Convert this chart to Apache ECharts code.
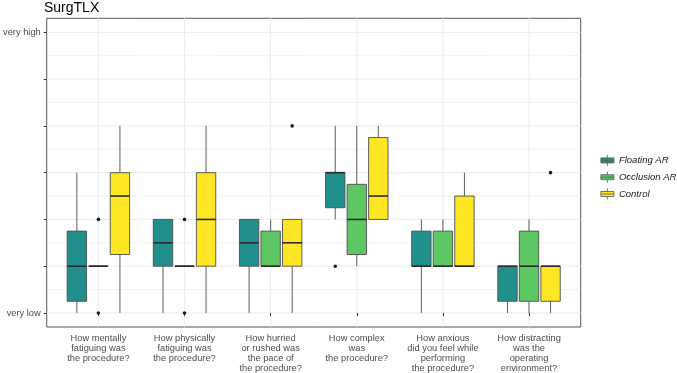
<!DOCTYPE html>
<html>
<head>
<meta charset="utf-8">
<script src="https://cdn.jsdelivr.net/npm/echarts@6/dist/echarts.min.js"></script>
<style>
  html, body { margin: 0; padding: 0; background: #fff; }
  #chart { width: 677px; height: 373px; }
</style>
</head>
<body>
<div id="chart"></div>
<script>
// ---------- data ----------
const categories = [
  'How mentally\nfatiguing was\nthe procedure?',
  'How physically\nfatiguing was\nthe procedure?',
  'How hurried\nor rushed was\nthe pace of\nthe procedure?',
  'How complex\nwas\nthe procedure?',
  'How anxious\ndid you feel while\nperforming\nthe procedure?',
  'How distracting\nwas the\noperating\nenvironment?'
];
const groups = ['Floating AR', 'Occlusion AR', 'Control'];

// [lower whisker, Q1, median, Q3, upper whisker] per category
const floatingAR = [
  [0, 0.25, 1, 1.75, 3],
  [0, 1, 1.5, 2, 2],
  [0, 1, 1.5, 2, 2],
  [2, 2.25, 3, 3, 4],
  [0, 1, 1, 1.75, 2],
  [0, 0.25, 1, 1, 1]
];
const occlusionAR = [
  [1, 1, 1, 1, 1],
  [1, 1, 1, 1, 1],
  [1, 1, 1, 1.75, 2],
  [1, 1.25, 2, 2.75, 4],
  [1, 1, 1, 1.75, 2],
  [0, 0.25, 1, 1.75, 2]
];
const control = [
  [0, 1.25, 2.5, 3, 4],
  [0, 1, 2, 3, 4],
  [0, 1, 1.5, 2, 2],
  [2, 2, 2.5, 3.75, 4],
  [1, 1, 1, 2.5, 3],
  [0, 0.25, 1, 1, 1]
];
// outliers: [category index, value]
const floatingOutliers = [[3, 1]];
const occlusionOutliers = [[0, 2], [0, 0], [1, 2], [1, 0]];
const controlOutliers = [[2, 4], [5, 3]];

const yTicks = [0, 1, 2, 3, 4, 5, 6];
const yMinorTicks = [0.5, 1.5, 2.5, 3.5, 4.5, 5.5];
const yTickLabels = ['very low', '', '', '', '', '', 'very high'];

// ---------- styling ----------
const COLORS = ['#21908C', '#5DC863', '#FDE725'];
const OFFSETS = [-0.25, 0, 0.25];
const BOX_W = 0.225;
const FONT = 'Liberation Sans, Arial, Helvetica, sans-serif';
const GRID_COLOR = '#ebebeb';

const boxData = [floatingAR, occlusionAR, control];
const outData = [floatingOutliers, occlusionOutliers, controlOutliers];

function boxRender(gi) {
  return function (params, api) {
    const x = api.value(0) + OFFSETS[gi];
    const xl = api.coord([x - BOX_W / 2, 0])[0];
    const xr = api.coord([x + BOX_W / 2, 0])[0];
    const xc = api.coord([x, 0])[0];
    const ys = [1, 2, 3, 4, 5].map(i => api.coord([x, api.value(i)])[1]);
    const [yLo, yQ1, yMed, yQ3, yHi] = ys;
    return {
      type: 'group',
      children: [
        { type: 'line', shape: { x1: xc, y1: yLo, x2: xc, y2: yQ1 }, style: { stroke: '#5e5e5e', lineWidth: 1 } },
        { type: 'line', shape: { x1: xc, y1: yQ3, x2: xc, y2: yHi }, style: { stroke: '#5e5e5e', lineWidth: 1 } },
        { type: 'rect', shape: { x: xl, y: yQ3, width: xr - xl, height: yQ1 - yQ3 },
          style: { fill: COLORS[gi], stroke: '#4d4d4d', lineWidth: 0.9 } },
        { type: 'line', shape: { x1: xl, y1: yMed, x2: xr, y2: yMed }, style: { stroke: '#2b2b2b', lineWidth: 1.6 } }
      ]
    };
  };
}

function outRender(gi) {
  return function (params, api) {
    const p = api.coord([api.value(0) + OFFSETS[gi], api.value(1)]);
    return { type: 'circle', shape: { cx: p[0], cy: p[1], r: 1.8 }, style: { fill: '#1a1a1a' } };
  };
}

const series = [];
// horizontal grid lines
series.push({
  type: 'custom', name: '_hgrid', silent: true, z: 0,
  data: yTicks.map(v => [v, 1]).concat(yMinorTicks.map(v => [v, 0])),
  encode: { y: 0 },
  renderItem: function (params, api) {
    const cs = params.coordSys;
    const y = api.coord([1, api.value(0)])[1];
    return { type: 'line', shape: { x1: cs.x, y1: y, x2: cs.x + cs.width, y2: y },
      style: { stroke: GRID_COLOR, lineWidth: api.value(1) ? 1 : 0.6 } };
  }
});
// vertical grid lines at categories
series.push({
  type: 'custom', name: '_vgrid', silent: true, z: 0,
  data: categories.map((c, i) => [i + 1]),
  encode: { x: 0 },
  renderItem: function (params, api) {
    const cs = params.coordSys;
    const x = api.coord([api.value(0), 0])[0];
    return { type: 'line', shape: { x1: x, y1: cs.y, x2: x, y2: cs.y + cs.height },
      style: { stroke: GRID_COLOR, lineWidth: 1 } };
  }
});
groups.forEach((g, gi) => {
  series.push({
    type: 'custom', name: g, z: 2,
    itemStyle: { color: COLORS[gi] },
    data: boxData[gi].map((d, i) => [i + 1].concat(d)),
    encode: { x: 0, y: [1, 2, 3, 4, 5] },
    renderItem: boxRender(gi)
  });
  series.push({
    type: 'custom', name: g + ' outliers', z: 3,
    data: outData[gi].map(d => [d[0] + 1, d[1]]),
    encode: { x: 0, y: 1 },
    renderItem: outRender(gi)
  });
});

const LEGEND_ICON = 'path://M0,3 L13,3 L13,8 L0,8 Z M0,5.5 L13,5.5 M6.5,0 L6.5,3 M6.5,8 L6.5,11';

const option = {
  animation: false,
  backgroundColor: '#ffffff',
  textStyle: { fontFamily: FONT },
  title: {
    text: 'SurgTLX', left: 44, top: 1, padding: 0,
    textStyle: { fontFamily: FONT, fontSize: 14, fontWeight: 'normal', color: '#000000', lineHeight: 14 }
  },
  legend: {
    orient: 'vertical', left: 600.5, top: 154.5, padding: 0,
    itemWidth: 13, itemHeight: 11, itemGap: 5,
    icon: LEGEND_ICON,
    data: groups.map((g, gi) => ({
      name: g,
      itemStyle: { color: COLORS[gi], borderColor: '#555555', borderWidth: 0.8 }
    })),
    textStyle: { fontFamily: FONT, fontSize: 9.5, fontStyle: 'italic', color: '#1a1a1a' }
  },
  grid: {
    left: 44, right: 96.3, top: 18.3, bottom: 45.5,
    show: true, borderColor: '#555555', borderWidth: 1, backgroundColor: '#ffffff'
  },
  xAxis: {
    type: 'value', min: 0.4, max: 6.6,
    axisLine: { show: false },
    splitLine: { show: false },
    axisTick: { show: true, length: 3, customValues: categories.map((c, i) => i + 1),
      lineStyle: { color: '#333333', width: 1 } },
    axisLabel: {
      customValues: categories.map((c, i) => i + 1),
      formatter: v => categories[Math.round(v) - 1],
      fontFamily: FONT, fontSize: 9.3, lineHeight: 10, color: '#4d4d4d', margin: 6, align: 'center'
    }
  },
  yAxis: {
    type: 'value', min: -0.3, max: 6.3,
    axisLine: { show: false },
    splitLine: { show: false },
    axisTick: { show: true, length: 3, customValues: yTicks, lineStyle: { color: '#333333', width: 1 } },
    axisLabel: {
      customValues: yTicks,
      formatter: v => yTickLabels[yTicks.indexOf(Math.round(v))] || '',
      fontFamily: FONT, fontSize: 9.3, color: '#4d4d4d', margin: 6
    }
  },
  series: series
};

const chart = echarts.init(document.getElementById('chart'), null, { renderer: 'canvas' });
chart.setOption(option);
</script>
</body>
</html>
